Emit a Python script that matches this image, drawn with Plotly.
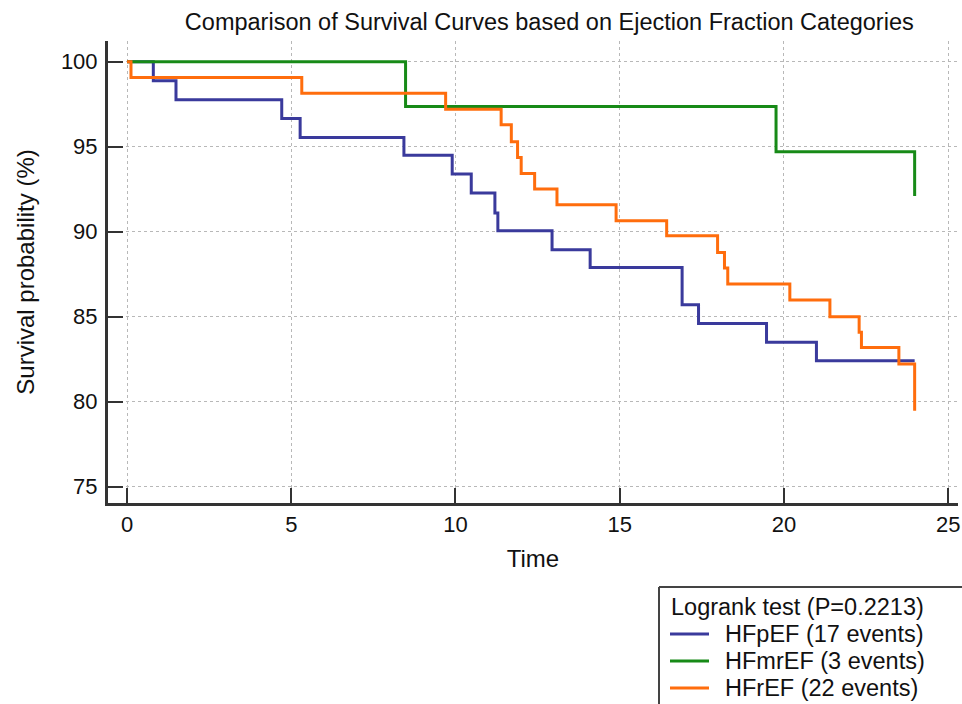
import plotly.graph_objects as go

# Kaplan-Meier step data (time, survival %)
hfpef_time = [0, 0.8, 1.49, 4.71, 5.27, 8.43, 9.9, 10.48, 11.2, 11.29, 12.94, 14.1, 16.9, 17.4, 19.47, 20.99, 23.98]
hfpef_surv = [100, 98.88, 97.76, 96.66, 95.55, 94.5, 93.39, 92.28, 91.1, 90.06, 88.94, 87.9, 85.7, 84.6, 83.49, 82.41, 82.41]

hfmref_time = [0, 8.48, 19.76, 23.98]
hfmref_surv = [100, 97.37, 94.7, 92.1]

hfref_time = [0, 0.12, 5.32, 9.7, 11.39, 11.7, 11.89, 12.0, 12.41, 13.09, 14.89, 16.43, 17.98, 18.19, 18.29,
              20.18, 21.4, 22.29, 22.36, 23.5, 23.98]
hfref_surv = [100, 99.08, 98.14, 97.2, 96.29, 95.29, 94.37, 93.43, 92.51, 91.59, 90.65, 89.76, 88.78, 87.86, 86.92,
              85.98, 85.0, 84.08, 83.19, 82.22, 79.47]

series_names = ["HFpEF (17 events)", "HFmrEF (3 events)", "HFrEF (22 events)"]
series_colors = ["#3a3a9c", "#178a17", "#ff6d0d"]
legend_title = "Logrank test (P=0.2213)"

x_ticks = [0, 5, 10, 15, 20, 25]
y_ticks = [75, 80, 85, 90, 95, 100]

FONT = "Liberation Sans, Arial, sans-serif"
TXT = "#111111"

W, H = 962, 704
ML, MR, MT, MB = 108, 4, 41, 201
PW, PH = W - ML - MR, H - MT - MB


def px_x(px):
    return (px - ML) / PW


def px_y(py):
    return (H - MB - py) / PH


fig = go.Figure()
for t, s, name, col in zip([hfpef_time, hfmref_time, hfref_time],
                           [hfpef_surv, hfmref_surv, hfref_surv],
                           series_names, series_colors):
    fig.add_trace(go.Scatter(x=t, y=s, mode="lines", name=name, showlegend=False,
                             line=dict(color=col, width=3, shape="hv")))

axis_common = dict(
    showline=True, linecolor="#333333", linewidth=3, mirror=False,
    ticks="inside", ticklen=15, tickwidth=2, tickcolor="#333333",
    showgrid=True, gridcolor="#b8b8b8", griddash="dot", gridwidth=1,
    zeroline=False, tickfont=dict(family=FONT, size=22, color=TXT),
)

# Legend drawn as a box (top and left border, running off the page edge) with samples and text
border = dict(color="#444444", width=2)
shapes = [
    dict(type="line", xref="paper", yref="paper", x0=px_x(659), x1=px_x(980),
         y0=px_y(587), y1=px_y(587), line=border, layer="above"),
    dict(type="line", xref="paper", yref="paper", x0=px_x(659), x1=px_x(659),
         y0=px_y(587), y1=px_y(720), line=border, layer="above"),
]
annotations = [dict(text=legend_title, xref="paper", yref="paper", x=px_x(669), y=px_y(607),
                    xanchor="left", yanchor="middle", showarrow=False,
                    font=dict(family=FONT, size=23.5, color=TXT))]
row_y = [634, 661, 688]
for name, col, ry in zip(series_names, series_colors, row_y):
    shapes.append(dict(type="line", xref="paper", yref="paper",
                       x0=px_x(670), x1=px_x(709), y0=px_y(ry), y1=px_y(ry),
                       line=dict(color=col, width=3), layer="above"))
    annotations.append(dict(text=name, xref="paper", yref="paper", x=px_x(723), y=px_y(ry),
                            xanchor="left", yanchor="middle", showarrow=False,
                            font=dict(family=FONT, size=23.5, color=TXT)))

fig.update_layout(
    width=W, height=H,
    paper_bgcolor="white", plot_bgcolor="white",
    margin=dict(l=ML, r=MR, t=MT, b=MB, autoexpand=False),
    title=dict(text="Comparison of Survival Curves based on Ejection Fraction Categories",
               x=0.571, xref="container", xanchor="center", y=0.969, yref="container", yanchor="middle",
               font=dict(family=FONT, size=23.5, color=TXT)),
    xaxis=dict(range=[-0.58, 25.3], tickvals=x_ticks, ticklabelstandoff=0,
               title=dict(text="Time", font=dict(family=FONT, size=24, color=TXT), standoff=14),
               **axis_common),
    yaxis=dict(range=[74.04, 101.22], tickvals=y_ticks, ticklabelstandoff=3,
               title=dict(text="Survival probability (%)", font=dict(family=FONT, size=24, color=TXT), standoff=20),
               **axis_common),
    showlegend=False,
    shapes=shapes,
    annotations=annotations,
)

fig.write_html(
    "out.html",
    config={"displayModeBar": False},
    post_script=("document.documentElement.style.overflow='hidden';"
                 "document.body.style.margin='0';document.body.style.overflow='hidden';"),
)
